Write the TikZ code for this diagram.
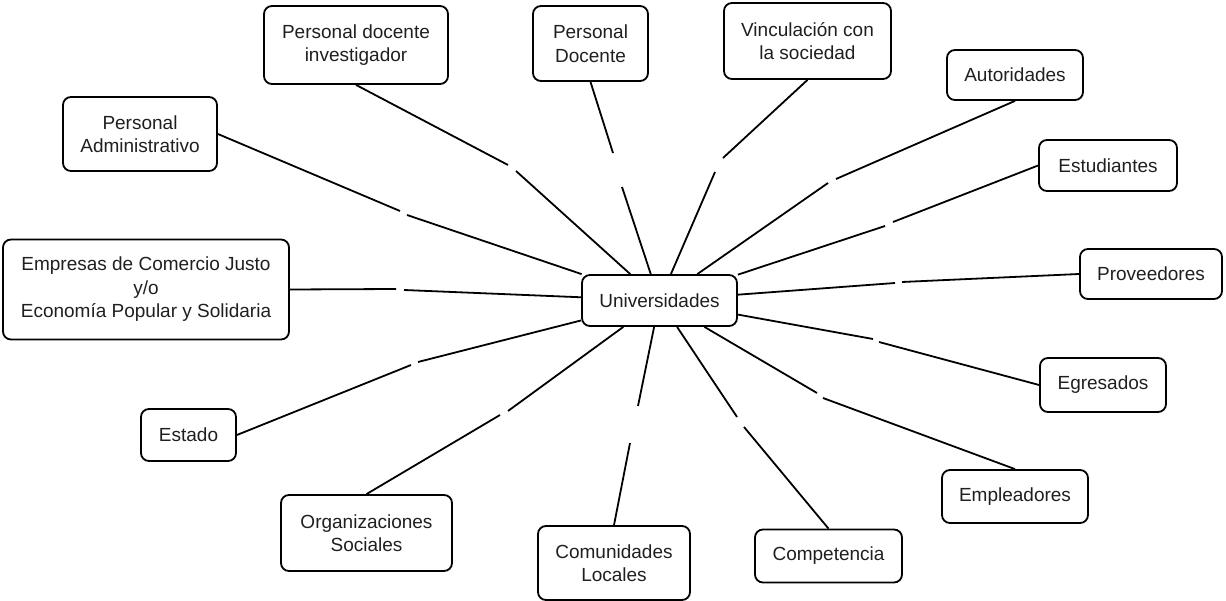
\documentclass[tikz,border=0pt]{standalone}
\usepackage{fontspec}
\setmainfont{Liberation Sans}
\begin{document}
\begin{tikzpicture}[x=1pt,y=-1pt,
  concept/.style={draw=black, line width=1.8pt, rounded corners=8pt, align=center,
    inner sep=0pt, font=\fontsize{19}{23.5}\selectfont, text=black!88},
  link/.style={draw=black, line width=1.8pt}]
\useasboundingbox (0,0) rectangle (1226,601);

% central concept
\node[concept, minimum width=155pt, minimum height=51pt] (univ) at (659.5,300.5) {Universidades};

% surrounding concepts
\node[concept, minimum width=184pt, minimum height=78pt] (pdi) at (356,45) {Personal docente\\investigador};
\node[concept, minimum width=115pt, minimum height=75pt] (pd) at (590.5,43.5) {Personal\\Docente};
\node[concept, minimum width=167pt, minimum height=76pt] (vinc) at (807.5,41) {Vinculación con\\la sociedad};
\node[concept, minimum width=136pt, minimum height=50pt] (aut) at (1015,75) {Autoridades};
\node[concept, minimum width=138pt, minimum height=51pt] (est) at (1108,165.5) {Estudiantes};
\node[concept, minimum width=142pt, minimum height=50pt] (prov) at (1151,274) {Proveedores};
\node[concept, minimum width=126pt, minimum height=54pt] (egr) at (1103,385) {Egresados};
\node[concept, minimum width=146pt, minimum height=53pt] (emp) at (1015,496.5) {Empleadores};
\node[concept, minimum width=147pt, minimum height=53pt] (comp) at (828.5,556) {Competencia};
\node[concept, minimum width=152pt, minimum height=74pt] (com) at (614,563) {Comunidades\\Locales};
\node[concept, minimum width=171pt, minimum height=76pt] (org) at (366.5,533) {Organizaciones\\Sociales};
\node[concept, minimum width=95pt, minimum height=52pt] (estado) at (188.5,435) {Estado};
\node[concept, minimum width=286pt, minimum height=100pt] (empr) at (146,289.5) {Empresas de Comercio Justo\\y/o\\Economía Popular y Solidaria};
\node[concept, minimum width=154pt, minimum height=74pt] (padm) at (140,134) {Personal\\Administrativo};

% break points of each connector (empty link labels)
\coordinate (pdi-a) at (508,165);    \coordinate (pdi-b) at (516,171);
\coordinate (pd-a) at (613,153);     \coordinate (pd-b) at (622,187);
\coordinate (vinc-a) at (723,158);   \coordinate (vinc-b) at (715,172);
\coordinate (aut-a) at (836,179);    \coordinate (aut-b) at (828,183);
\coordinate (est-a) at (893,222);    \coordinate (est-b) at (885,226);
\coordinate (prov-a) at (902,282);   \coordinate (prov-b) at (895,283);
\coordinate (egr-a) at (879,342);    \coordinate (egr-b) at (873,339);
\coordinate (emp-a) at (823,398);    \coordinate (emp-b) at (817,393);
\coordinate (comp-a) at (744,427);   \coordinate (comp-b) at (737,417);
\coordinate (com-a) at (630,443);    \coordinate (com-b) at (638,406);
\coordinate (org-a) at (500,415);    \coordinate (org-b) at (508,411);
\coordinate (estado-a) at (411,365); \coordinate (estado-b) at (418,362);
\coordinate (empr-a) at (396,289);   \coordinate (empr-b) at (404,290);
\coordinate (padm-a) at (400,211);   \coordinate (padm-b) at (407,215);

% connectors
\draw[link] (pdi.south) -- (pdi-a);       \draw[link] (pdi-b) -- (univ);
\draw[link] (pd.south) -- (pd-a);         \draw[link] (pd-b) -- (univ);
\draw[link] (vinc.south) -- (vinc-a);     \draw[link] (vinc-b) -- (univ);
\draw[link] (aut.south) -- (aut-a);       \draw[link] (aut-b) -- (univ);
\draw[link] (est.west) -- (est-a);        \draw[link] (est-b) -- (univ);
\draw[link] (prov.west) -- (prov-a);      \draw[link] (prov-b) -- (univ);
\draw[link] (egr.west) -- (egr-a);        \draw[link] (egr-b) -- (univ);
\draw[link] (emp.north) -- (emp-a);       \draw[link] (emp-b) -- (univ);
\draw[link] (comp.north) -- (comp-a);     \draw[link] (comp-b) -- (univ);
\draw[link] (com.north) -- (com-a);       \draw[link] (com-b) -- (univ);
\draw[link] (org.north) -- (org-a);       \draw[link] (org-b) -- (univ);
\draw[link] (estado.east) -- (estado-a);  \draw[link] (estado-b) -- (univ);
\draw[link] (empr.east) -- (empr-a);      \draw[link] (empr-b) -- (univ);
\draw[link] (padm.east) -- (padm-a);      \draw[link] (padm-b) -- (univ);
\end{tikzpicture}
\end{document}
